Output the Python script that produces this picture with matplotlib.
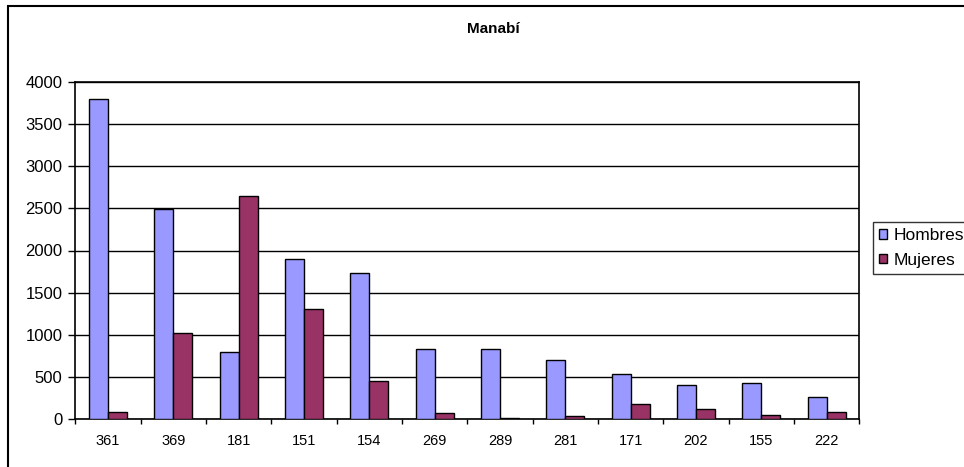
import matplotlib
matplotlib.use("Agg")
import matplotlib.pyplot as plt
import numpy as np
from matplotlib.patches import Rectangle

plt.rcParams['font.family'] = ['Liberation Sans', 'DejaVu Sans']

categories = ["361", "369", "181", "151", "154", "269", "289", "281", "171", "202", "155", "222"]
hombres = [3790, 2490, 800, 1900, 1730, 833, 830, 706, 533, 406, 426, 260]
mujeres = [85, 1025, 2640, 1310, 450, 71, 19, 36, 181, 118, 55, 87]
series_names = ["Hombres", "Mujeres"]
title = "Manabí"

W, H = 964, 467
fig = plt.figure(figsize=(W / 100, H / 100), dpi=100)

# outer chart border (top and left visible, rest cut off)
fig.patches.append(Rectangle((8 / W, -0.05), 1.2, (H - 6) / H + 0.05,
                             transform=fig.transFigure, fill=False,
                             edgecolor='black', linewidth=1.5))

ax = fig.add_axes([75.3 / W, 1 - 419.3 / H, (859.3 - 75.3) / W, (419.3 - 81.7) / H])

x = np.arange(len(categories))
w = 0.29
b1 = ax.bar(x - w / 2, hombres, width=w, color='#9999FF', edgecolor='black',
            linewidth=1.0, label=series_names[0], zorder=3)
b2 = ax.bar(x + w / 2, mujeres, width=w, color='#993366', edgecolor='black',
            linewidth=1.0, label=series_names[1], zorder=3)

ax.set_xlim(-0.5, len(categories) - 0.5)
ax.set_ylim(0, 4000)
ax.set_yticks(np.arange(0, 4001, 500))
ax.yaxis.grid(True, color='black', linewidth=1.0, zorder=0)
ax.set_axisbelow(True)

ax.set_xticks(x)
ax.set_xticklabels(categories, fontsize=10.5)
ax.tick_params(axis='x', which='major', length=0, pad=10.5)
ax.set_xticks(np.arange(-0.5, len(categories), 1.0), minor=True)
ax.tick_params(axis='x', which='minor', length=3.6, width=1, direction='out')
ax.tick_params(axis='y', length=5, width=1, direction='out', labelsize=12, pad=4.3)

for s in ax.spines.values():
    s.set_color('black')
    s.set_linewidth(1.2)

fig.text(493 / W, 1 - 29 / H, title, ha='center', va='center',
         fontsize=11, fontweight='bold')

leg = fig.legend(handles=[b1, b2], labels=series_names,
                 loc='upper left', bbox_to_anchor=(873 / W, 1 - 222 / H),
                 bbox_transform=fig.transFigure, frameon=True, fancybox=False,
                 edgecolor='black', fontsize=12.5, handlelength=0.45, handleheight=0.45,
                 handletextpad=0.4, borderpad=0.36, labelspacing=0.55,
                 borderaxespad=0)
leg.get_frame().set_linewidth(1.0)

fig.savefig("out.png", dpi=100)
